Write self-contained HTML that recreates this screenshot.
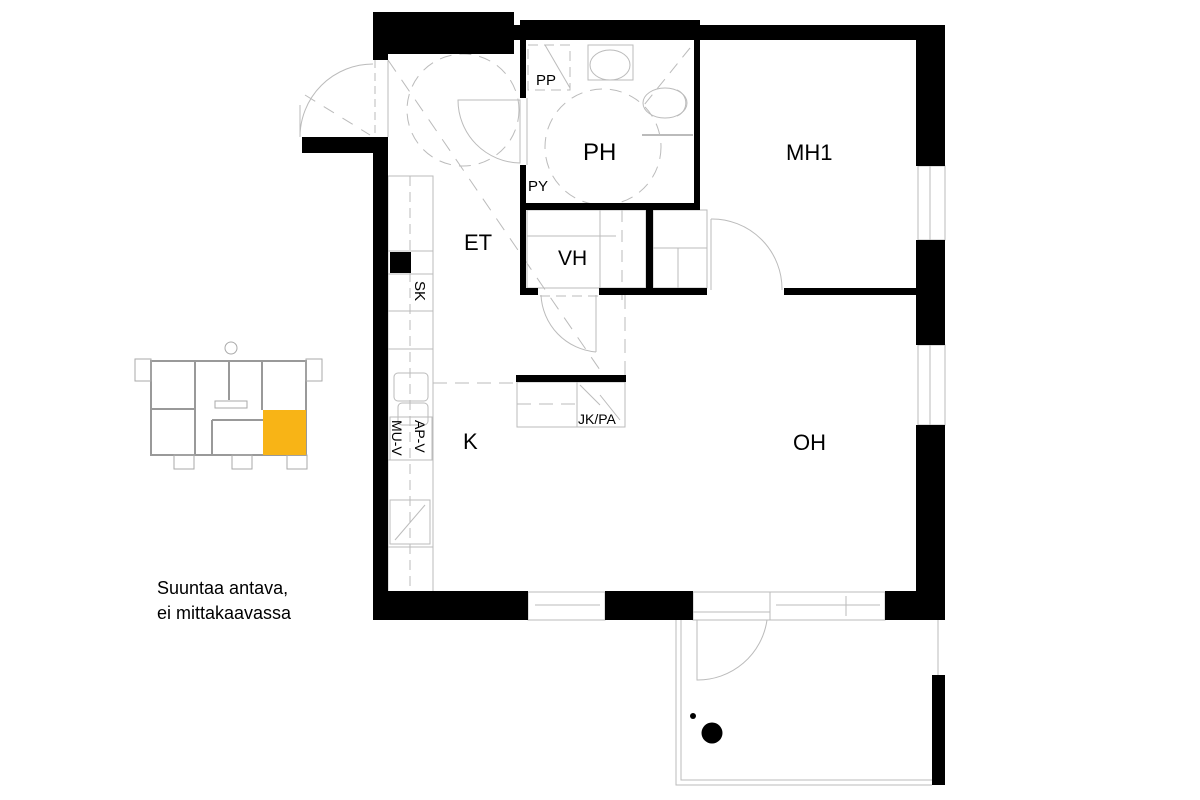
<!DOCTYPE html>
<html><head><meta charset="utf-8"><style>
html,body{margin:0;padding:0;background:#fff}
svg{display:block}
text{font-family:"Liberation Sans",sans-serif;fill:#000}
</style></head><body>
<svg width="1200" height="800" viewBox="0 0 1200 800" xmlns="http://www.w3.org/2000/svg">
<g fill="none" stroke="#bbb" stroke-width="1">
  <rect x="388" y="176" width="45" height="416"/>
  <line x1="410" y1="176" x2="410" y2="592" stroke-dasharray="10,6"/>
  <line x1="388" y1="251" x2="433" y2="251"/>
  <line x1="388" y1="274" x2="433" y2="274"/>
  <line x1="388" y1="311" x2="433" y2="311"/>
  <line x1="388" y1="349" x2="433" y2="349"/>
  <rect x="394" y="373" width="34" height="28" rx="4"/>
  <rect x="398" y="403" width="30" height="22" rx="4"/>
  <rect x="390" y="417" width="42" height="43"/>
  <line x1="388" y1="460" x2="433" y2="460"/>
  <rect x="390" y="500" width="40" height="44"/>
  <line x1="395" y1="540" x2="425" y2="505"/>
  <line x1="388" y1="547" x2="433" y2="547"/>
  <path d="M373 64 A73 73 0 0 0 300 137"/>
  <line x1="300" y1="137" x2="300" y2="105"/>
  <line x1="375" y1="60" x2="375" y2="137" stroke-dasharray="8,5"/>
  <line x1="388" y1="60" x2="388" y2="137"/>
  <line x1="305" y1="95" x2="370" y2="135" stroke-dasharray="12,10"/>
  <circle cx="463" cy="110" r="56" stroke-dasharray="12,8"/>
  <path d="M458 100 L520 100 L520 163 A63 63 0 0 1 458 100 Z"/>
  <line x1="388" y1="60" x2="600" y2="370" stroke-dasharray="14,10"/>
  <line x1="433" y1="383" x2="516" y2="383" stroke-dasharray="14,8"/>
  <line x1="625" y1="295" x2="625" y2="375" stroke-dasharray="14,8"/>
  <circle cx="603" cy="147" r="58" stroke-dasharray="12,8"/>
  <rect x="528" y="45" width="42" height="45" stroke-dasharray="10,6"/>
  <line x1="545" y1="45" x2="570" y2="88"/>
  <ellipse cx="610" cy="65" rx="20" ry="15"/>
  <rect x="588" y="45" width="45" height="35"/>
  <ellipse cx="665" cy="103" rx="22" ry="15"/>
  <path d="M677 90 A14 14 0 0 1 677 116"/>
  <line x1="642" y1="135" x2="693" y2="135" stroke-width="2"/>
  <line x1="690" y1="48" x2="640" y2="110" stroke-dasharray="12,8"/>
  <line x1="527" y1="165" x2="527" y2="98"/>
  <rect x="527" y="210" width="119" height="78"/>
  <line x1="527" y1="236" x2="616" y2="236"/>
  <line x1="600" y1="210" x2="600" y2="288"/>
  <line x1="622" y1="210" x2="622" y2="300" stroke-dasharray="12,8"/>
  <line x1="653" y1="248" x2="707" y2="248"/>
  <line x1="678" y1="248" x2="678" y2="288"/>
  <rect x="653" y="210" width="54" height="78"/>
  <path d="M541 295 A60 60 0 0 0 596 352"/>
  <line x1="596" y1="295" x2="596" y2="352"/>
  <line x1="540" y1="296" x2="598" y2="296" stroke-dasharray="10,6"/>
  <path d="M711 219 A70 70 0 0 1 782 290"/>
  <line x1="711" y1="219" x2="711" y2="290"/>
  <rect x="517" y="382" width="108" height="45"/>
  <line x1="577" y1="382" x2="577" y2="427"/>
  <line x1="517" y1="404" x2="577" y2="404" stroke-dasharray="14,8"/>
  <line x1="580" y1="385" x2="600" y2="405"/>
  <line x1="600" y1="395" x2="620" y2="420"/>
  <rect x="918" y="166" width="27" height="74"/>
  <line x1="930" y1="166" x2="930" y2="240"/>
  <rect x="918" y="345" width="27" height="80"/>
  <line x1="930" y1="345" x2="930" y2="425"/>
  <rect x="528" y="592" width="77" height="28"/>
  <line x1="535" y1="605" x2="600" y2="605"/>
  <rect x="693" y="592" width="77" height="28"/>
  <line x1="693" y1="612" x2="770" y2="612"/>
  <rect x="770" y="592" width="115" height="28"/>
  <line x1="776" y1="605" x2="880" y2="605"/>
  <line x1="846" y1="596" x2="846" y2="616"/>
  <path d="M676 620 L676 785 L932 785"/>
  <path d="M681 620 L681 780 L932 780"/>
  <path d="M938 620 L938 675"/>
  <path d="M697 620 L697 680 A70 70 0 0 0 767 620"/>
  <g stroke="#999" stroke-width="2">
    <rect x="151" y="361" width="155" height="94"/>
    <line x1="151" y1="409" x2="195" y2="409"/>
    <line x1="195" y1="361" x2="195" y2="455"/>
    <line x1="229" y1="361" x2="229" y2="400"/>
    <line x1="262" y1="361" x2="262" y2="410"/>
    <line x1="212" y1="420" x2="263" y2="420"/>
    <line x1="212" y1="420" x2="212" y2="455"/>
  </g>
  <g stroke="#aaa" stroke-width="1">
    <rect x="135" y="359" width="16" height="22"/>
    <rect x="306" y="359" width="16" height="22"/>
    <rect x="174" y="455" width="20" height="14"/>
    <rect x="232" y="455" width="20" height="14"/>
    <rect x="287" y="455" width="20" height="14"/>
    <circle cx="231" cy="348" r="6"/>
    <rect x="215" y="401" width="32" height="7"/>
  </g>
</g>
<rect x="263" y="410" width="43" height="45" fill="#f8b416"/>
<g fill="#000">
  <rect x="373" y="12" width="141" height="42"/>
  <rect x="373" y="12" width="15" height="48"/>
  <rect x="373" y="137" width="15" height="483"/>
  <rect x="302" y="137" width="86" height="16"/>
  <rect x="514" y="25" width="431" height="15"/>
  <rect x="520" y="20" width="180" height="6"/>
  <rect x="916" y="25" width="29" height="141"/>
  <rect x="916" y="240" width="29" height="105"/>
  <rect x="916" y="425" width="29" height="195"/>
  <rect x="373" y="591" width="155" height="29"/>
  <rect x="605" y="591" width="88" height="29"/>
  <rect x="885" y="591" width="60" height="29"/>
  <rect x="520" y="20" width="6" height="78"/>
  <rect x="520" y="165" width="6" height="130"/>
  <rect x="520" y="203" width="180" height="7"/>
  <rect x="694" y="20" width="6" height="190"/>
  <rect x="520" y="288" width="18" height="7"/>
  <rect x="599" y="288" width="108" height="7"/>
  <rect x="646" y="210" width="7" height="85"/>
  <rect x="784" y="288" width="134" height="7"/>
  <rect x="516" y="375" width="110" height="7"/>
  <rect x="390" y="252" width="21" height="21"/>
  <rect x="932" y="675" width="13" height="110"/>
  <circle cx="712" cy="733" r="10.5"/>
  <circle cx="693" cy="716" r="3"/>
</g>
<text x="536" y="85" font-size="15">PP</text>
<text x="583" y="160" font-size="24">PH</text>
<text x="786" y="160" font-size="22">MH1</text>
<text x="528" y="191" font-size="15">PY</text>
<text x="464" y="250" font-size="22">ET</text>
<text x="558" y="265" font-size="21">VH</text>
<text x="415" y="281" font-size="15" transform="rotate(90 415 281)">SK</text>
<text x="463" y="449" font-size="22">K</text>
<text x="793" y="450" font-size="22">OH</text>
<text x="578" y="424" font-size="14">JK/PA</text>
<text x="415" y="420" font-size="14" transform="rotate(90 415 420)">AP-V</text>
<text x="392" y="420" font-size="14" transform="rotate(90 392 420)">MU-V</text>
<text x="157" y="594" font-size="18">Suuntaa antava,</text>
<text x="157" y="619" font-size="18">ei mittakaavassa</text>
</svg>
</body></html>
